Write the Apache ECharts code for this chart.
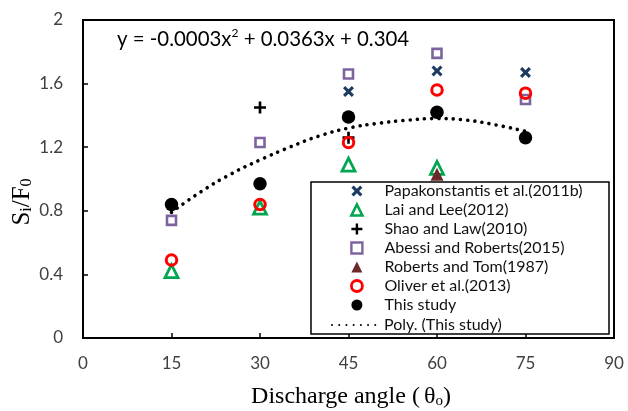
<!DOCTYPE html>
<html><head><meta charset="utf-8">
<script src="https://cdn.jsdelivr.net/npm/echarts@6/dist/echarts.min.js"></script>
<style>html,body{margin:0;padding:0;background:#fff}#c{width:628px;height:411px}</style>
</head><body><div id="c"></div>
<script>
// ---- data ----
const xTicks = [0, 15, 30, 45, 60, 75, 90];
const yTicks = [0, 0.4, 0.8, 1.2, 1.6, 2];
const papakonstantis = [[45, 1.55], [60, 1.68], [75, 1.67]];
const laiLee = [[15, 0.42], [30, 0.82], [45, 1.09], [60, 1.07]];
const shaoLaw = [[30, 1.45], [45, 1.26]];
const abessiRoberts = [[15, 0.74], [30, 1.23], [45, 1.66], [60, 1.79], [75, 1.50]];
const robertsTom = [[60, 1.03]];
const oliver = [[15, 0.49], [30, 0.84], [45, 1.23], [60, 1.56], [75, 1.54]];
const thisStudy = [[15, 0.84], [30, 0.97], [45, 1.39], [60, 1.42], [75, 1.26]];
const polyTrend = [[15, 0.79], [20, 0.92], [25, 1.03], [30, 1.12], [35, 1.20], [40, 1.27], [45, 1.32],
                   [50, 1.35], [55, 1.37], [60, 1.38], [65, 1.37], [70, 1.34], [75, 1.30]];
const names = ['Papakonstantis et al.(2011b)', 'Lai and Lee(2012)', 'Shao and Law(2010)',
  'Abessi and Roberts(2015)', 'Roberts and Tom(1987)', 'Oliver et al.(2013)', 'This study', 'Poly. (This study)'];

const X_PATH = 'path://M0,2 L2,0 L5,3 L8,0 L10,2 L7,5 L10,8 L8,10 L5,7 L2,10 L0,8 L3,5 Z';
const PLUS_PATH = 'path://M3.9,0 H6.1 V3.9 H10 V6.1 H6.1 V10 H3.9 V6.1 H0 V3.9 H3.9 Z';
const T = 'rgba(255,255,255,0)';

const chart = echarts.init(document.getElementById('c'), null, {renderer: 'canvas'});
const sc = (name, data, symbol, size, style) => ({
  name, type: 'scatter', data, symbol, symbolSize: size, symbolKeepAspect: true,
  itemStyle: Object.assign({opacity: 1}, style), emphasis: {disabled: true}
});
const legendText = {fontFamily: 'Lato', fontSize: 16, color: '#111'};
const hollowW = {1: 2.6, 3: 2.4, 5: 2.8};
chart.setOption({
  animation: false,
  backgroundColor: '#fff',
  grid: {left: 83, top: 20, right: 14, bottom: 73, show: true, borderColor: '#000', borderWidth: 2, backgroundColor: 'transparent'},
  xAxis: {
    type: 'value', min: 0, max: 90, interval: 15,
    axisLine: {show: true, lineStyle: {color: '#000', width: 2}},
    axisTick: {show: true, inside: true, length: 5, lineStyle: {color: '#000', width: 1.5}},
    axisLabel: {margin: 17, color: '#404040', fontFamily: 'Lato', fontSize: 17,
      formatter: v => xTicks.includes(v) ? String(v) : ''},
    splitLine: {show: false}
  },
  yAxis: {
    type: 'value', min: 0, max: 2, interval: 0.4,
    axisLine: {show: true, lineStyle: {color: '#000', width: 2}},
    axisTick: {show: true, inside: true, length: 5, lineStyle: {color: '#000', width: 1.5}},
    axisLabel: {margin: 20, color: '#404040', fontFamily: 'Lato', fontSize: 17,
      formatter: v => { const t = yTicks.find(k => Math.abs(k - v) < 1e-6); return t === undefined ? '' : String(t); }},
    splitLine: {show: false}
  },
  legend: [
    {orient: 'vertical', left: 350, top: 183, itemWidth: 11, itemHeight: 11, itemGap: 3,
      padding: 0, selectedMode: false,
      textStyle: Object.assign({padding: [0, 0, 0, 17]}, legendText),
      data: names.slice(0, 7).map((n, i) => hollowW[i] ? {name: n, itemStyle: {borderWidth: hollowW[i]}} : n)},
    {orient: 'vertical', left: 331, top: 317, itemWidth: 47, itemHeight: 13, itemGap: 3,
      padding: 0, selectedMode: false, textStyle: legendText,
      data: names.slice(7)}
  ],
  graphic: [
    {type: 'rect', z: 3, shape: {x: 311, y: 182, width: 298, height: 152},
      style: {fill: '#fff', stroke: '#000', lineWidth: 1.5}},
    {type: 'text', left: 117, top: 27, z: 5,
      style: {text: '{m|y = -0.0003x}{p|2}{m| + 0.0363x + 0.304}',
        rich: {m: {fontFamily: 'Lato', fontSize: 20.4, color: '#111', lineHeight: 22, verticalAlign: 'bottom'},
               p: {fontFamily: 'Lato', fontSize: 12, color: '#111', lineHeight: 13, verticalAlign: 'top'}}}},
    {type: 'text', x: 351, y: 397, z: 5,
      style: {text: '{m|Discharge angle (}{t|θ}{s|o}{m|)}', align: 'center', verticalAlign: 'middle',
        rich: {m: {fontFamily: 'Liberation Serif', fontSize: 24, color: '#000', lineHeight: 24, verticalAlign: 'top'},
               t: {fontFamily: 'Liberation Serif', fontSize: 24, color: '#000', lineHeight: 24, verticalAlign: 'top', padding: [0, 0, 0, 4]},
               s: {fontFamily: 'Liberation Serif', fontSize: 15, color: '#000', lineHeight: 15, verticalAlign: 'bottom', padding: [13, 0, 0, 0]}}}},
    {type: 'text', x: 22, y: 202, rotation: Math.PI / 2, z: 5,
      style: {text: '{m|S}{s|i}{m|/F}{s|0}', align: 'center', verticalAlign: 'middle',
        rich: {m: {fontFamily: 'Liberation Serif', fontSize: 25, color: '#000', lineHeight: 25, verticalAlign: 'top'},
               s: {fontFamily: 'Liberation Serif', fontSize: 16, color: '#000', lineHeight: 16, verticalAlign: 'bottom', padding: [13, 0, 0, 0]}}}}
  ],
  series: [
    sc(names[0], papakonstantis, X_PATH, 11, {color: '#1F3A60'}),
    sc(names[1], laiLee, 'triangle', 13, {color: T, borderColor: '#00A650', borderWidth: 2.8}),
    sc(names[2], shaoLaw, PLUS_PATH, 12, {color: '#000'}),
    sc(names[3], abessiRoberts, 'rect', 9, {color: T, borderColor: '#7E649E', borderWidth: 2.6}),
    sc(names[4], robertsTom, 'triangle', 13, {color: '#6E2A2A'}),
    sc(names[5], oliver, 'circle', 10.5, {color: T, borderColor: '#FF0000', borderWidth: 3}),
    sc(names[6], thisStudy, 'circle', 13.5, {color: '#000'}),
    {name: names[7], type: 'line', data: polyTrend, smooth: true, symbol: 'circle', symbolSize: 0.01, showSymbol: false, z: 2,
      itemStyle: {color: '#000', opacity: 0}, emphasis: {disabled: true},
      lineStyle: {color: '#000', width: 3.6, type: [0.01, 7.2], cap: 'round'}}
  ]
});
</script></body></html>
